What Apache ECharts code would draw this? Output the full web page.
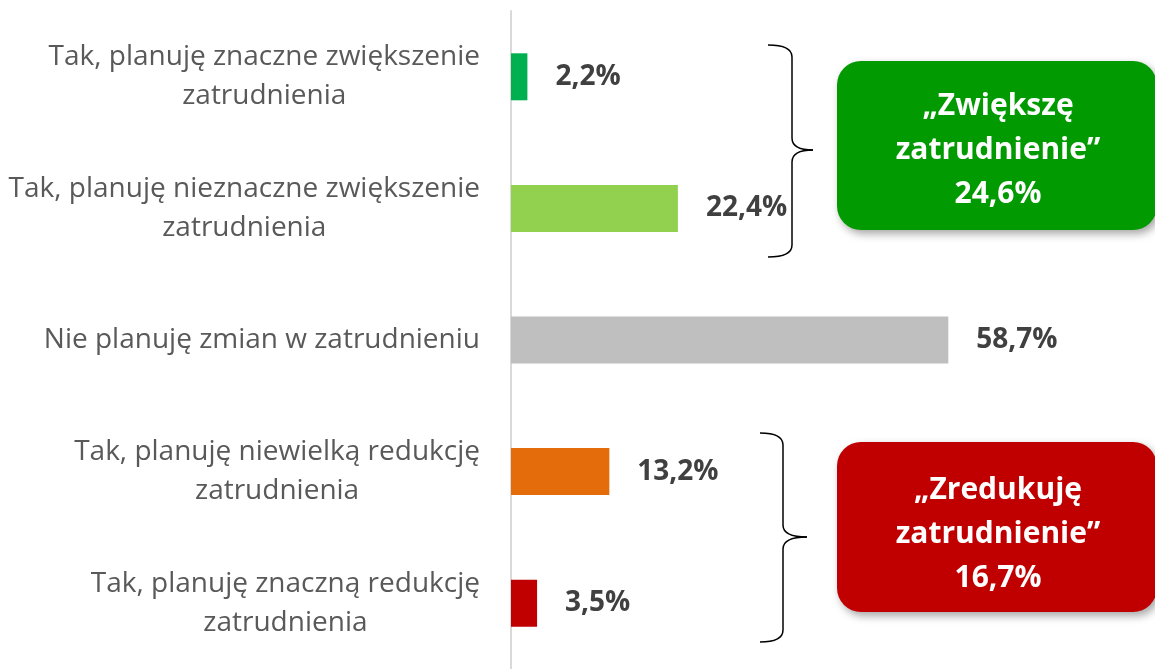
<!DOCTYPE html>
<html>
<head>
<meta charset="utf-8">
<script src="https://cdn.jsdelivr.net/npm/echarts@6/dist/echarts.min.js"></script>
<style>
  html, body { margin: 0; padding: 0; background: #fff; }
  #main { width: 1155px; height: 669px; }
</style>
</head>
<body>
<div id="main"></div>
<script>
var categories = [
    'Tak, planuję znaczne zwiększenie\nzatrudnienia',
    'Tak, planuję nieznaczne zwiększenie\nzatrudnienia',
    'Nie planuję zmian w zatrudnieniu',
    'Tak, planuję niewielką redukcję\nzatrudnienia',
    'Tak, planuję znaczną redukcję\nzatrudnienia'
];
var values = [2.2, 22.4, 58.7, 13.2, 3.5];
var barColors = ['#00b050', '#92d050', '#bfbfbf', '#e46c0a', '#c00000'];

var myChart = echarts.init(document.getElementById('main'));

var fontFamily = '"Open Sans", Lato, sans-serif';

// klamra: x0 - koniec zawijasow, xv - pionowa linia, xt - czubek
function brace(x0, xv, xt, yTop, yMid, yBot) {
    var st = { stroke: '#000', lineWidth: 1.5, fill: null };
    var c = 12;
    return [
        { type: 'bezierCurve', shape: { x1: x0, y1: yTop, x2: xv, y2: yTop + c, cpx1: xv, cpy1: yTop }, style: st },
        { type: 'line', shape: { x1: xv, y1: yTop + c, x2: xv, y2: yMid - c }, style: st },
        { type: 'bezierCurve', shape: { x1: xv, y1: yMid - c, x2: xt, y2: yMid, cpx1: xv, cpy1: yMid }, style: st },
        { type: 'bezierCurve', shape: { x1: xt, y1: yMid, x2: xv, y2: yMid + c, cpx1: xv, cpy1: yMid }, style: st },
        { type: 'line', shape: { x1: xv, y1: yMid + c, x2: xv, y2: yBot - c }, style: st },
        { type: 'bezierCurve', shape: { x1: xv, y1: yBot - c, x2: x0, y2: yBot, cpx1: xv, cpy1: yBot }, style: st }
    ];
}

var boxes = [
    {
        type: 'rect',
        shape: { x: 837, y: 61, width: 320, height: 169, r: 24 },
        style: { fill: '#019a01', shadowBlur: 8, shadowOffsetX: 3, shadowOffsetY: 4, shadowColor: 'rgba(0,0,0,0.35)' }
    },
    {
        type: 'text',
        x: 998, y: 150,
        style: {
            text: '„Zwiększę\nzatrudnienie”\n24,6%',
            align: 'center', verticalAlign: 'middle',
            fontFamily: fontFamily, fontWeight: 'bold', fontSize: 30, lineHeight: 44,
            fill: '#fff'
        }
    },
    {
        type: 'rect',
        shape: { x: 837, y: 442, width: 320, height: 170, r: 24 },
        style: { fill: '#c00000', shadowBlur: 8, shadowOffsetX: 3, shadowOffsetY: 4, shadowColor: 'rgba(0,0,0,0.35)' }
    },
    {
        type: 'text',
        x: 998, y: 534,
        style: {
            text: '„Zredukuję\nzatrudnienie”\n16,7%',
            align: 'center', verticalAlign: 'middle',
            fontFamily: fontFamily, fontWeight: 'bold', fontSize: 30, lineHeight: 44,
            fill: '#fff'
        }
    }
];

myChart.setOption({
    animation: false,
    grid: { left: 511, width: 596, top: 11, height: 664, containLabel: false },
    xAxis: {
        type: 'value',
        min: 0,
        max: 80,
        show: false
    },
    yAxis: {
        type: 'category',
        data: categories,
        inverse: true,
        axisTick: { show: false },
        axisLine: { show: true, lineStyle: { color: '#d9d9d9', width: 2 } },
        axisLabel: {
            margin: 31,
            formatter: function (v) {
                return v.split('\n').map(function (l) { return '{c|' + l + '}'; }).join('\n');
            },
            rich: {
                c: {
                    align: 'center',
                    fontFamily: fontFamily,
                    fontSize: 28,
                    lineHeight: 39,
                    color: '#595959'
                }
            }
        }
    },
    series: [{
        type: 'bar',
        barWidth: 47,
        data: values.map(function (v, i) {
            return { value: v, itemStyle: { color: barColors[i] } };
        }),
        label: {
            show: true,
            position: 'right',
            distance: 28,
            fontFamily: fontFamily,
            fontWeight: 'bold',
            fontSize: 28,
            color: '#404040',
            formatter: function (p) {
                return p.value.toFixed(1).replace('.', ',') + '%';
            }
        }
    }],
    graphic: brace(768, 792, 813, 45, 150, 257)
        .concat(brace(760, 783, 807, 433, 537, 642))
        .concat(boxes)
});
</script>
</body>
</html>
